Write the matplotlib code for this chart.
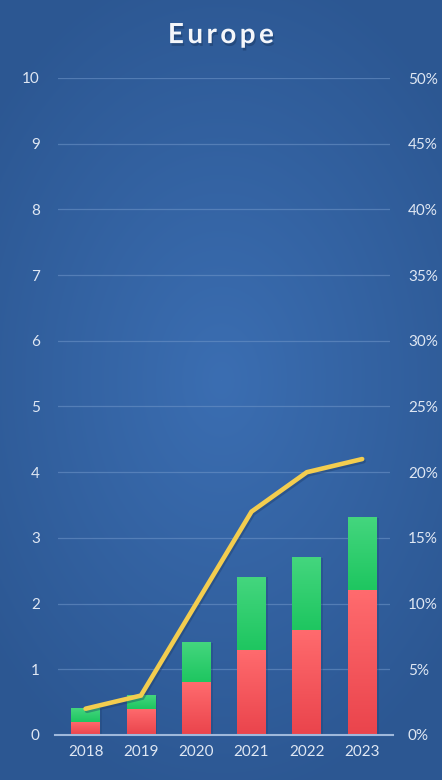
import numpy as np
import matplotlib.pyplot as plt
import matplotlib.patheffects as pe

years = ['2018', '2019', '2020', '2021', '2022', '2023']
red_vals = [0.2, 0.4, 0.8, 1.3, 1.6, 2.2]
green_vals = [0.2, 0.2, 0.6, 1.1, 1.1, 1.1]
line_pct = [2, 3, 10, 17, 20, 21]
left_ticks = [0, 1, 2, 3, 4, 5, 6, 7, 8, 9, 10]
right_ticks = [0, 5, 10, 15, 20, 25, 30, 35, 40, 45, 50]

plt.rcParams['font.family'] = ['Lato', 'DejaVu Sans']
txt_col = '#dfe7f3'

fig = plt.figure(figsize=(4.42, 7.8), dpi=100)

# radial gradient background
bg = fig.add_axes([0, 0, 1, 1], zorder=-10)
yy, xx = np.mgrid[0:780, 0:442]
r = np.sqrt(((xx - 221) / 300.0) ** 2 + ((yy - 380) / 430.0) ** 2)
r = np.clip(r, 0, 1)
c_in = np.array([0x3b, 0x6e, 0xb2]) / 255
c_out = np.array([0x2c, 0x57, 0x92]) / 255
img = c_in[None, None, :] * (1 - r[..., None]) + c_out[None, None, :] * r[..., None]
bg.imshow(img, aspect='auto', extent=[0, 1, 0, 1])
bg.axis('off')

ax = fig.add_axes([0.131, 0.0577, 0.751, 0.8423])
ax.patch.set_alpha(0)
x = np.arange(len(years))
w = 0.52


def grad_bar(ax, xc, bottom, height, top_col, bot_col):
    g = np.linspace(0, 1, 100)[:, None]
    top_c = np.array(plt.matplotlib.colors.to_rgb(top_col))
    bot_c = np.array(plt.matplotlib.colors.to_rgb(bot_col))
    arr = top_c[None, None, :] * (1 - g[..., None]) + bot_c[None, None, :] * g[..., None]
    arr = np.repeat(arr, 2, axis=1)
    ax.imshow(arr, aspect='auto', extent=[xc - w / 2, xc + w / 2, bottom, bottom + height],
              zorder=3, interpolation='bilinear')


for i in range(len(years)):
    # soft shadow
    ax.bar(x[i] + 0.04, red_vals[i] + green_vals[i], w, bottom=0, color='#1d3f70', alpha=0.3, zorder=2)
    grad_bar(ax, x[i], 0, red_vals[i], '#ff6b6e', '#ea444c')
    grad_bar(ax, x[i], red_vals[i], green_vals[i], '#44d67e', '#1ec660')

ax.set_xlim(-0.5, 5.5)
ax.set_ylim(0, 10)
ax.set_yticks(left_ticks)
ax.set_xticks(x)
ax.set_xticklabels(years)
for s in ax.spines.values():
    s.set_visible(False)
ax.axhline(0, color='#9fb8db', lw=1.5, zorder=4, xmin=-0.01, xmax=1.01, clip_on=False)
for t in left_ticks[1:]:
    ax.axhline(t, color='#6b92c6', lw=0.9, alpha=0.6, zorder=1, xmin=0.0, xmax=1.0)
ax.tick_params(axis='both', length=0, colors=txt_col, labelsize=11)
ax.tick_params(axis='y', pad=13)
ax.tick_params(axis='x', pad=7)

ax2 = ax.twinx()
ax2.set_ylim(0, 50)
ax2.set_yticks(right_ticks)
ax2.set_yticklabels([f'{v}%' for v in right_ticks])
for s in ax2.spines.values():
    s.set_visible(False)
ax2.tick_params(axis='y', length=0, colors=txt_col, labelsize=11, pad=13)
ax2.plot(x, line_pct, color='#f3cd4f', lw=3.3, solid_capstyle='round', solid_joinstyle='miter', zorder=5,
         path_effects=[pe.SimpleLineShadow(offset=(1, -1.5), shadow_color='#1b3a66', alpha=0.4), pe.Normal()])

fig.text(0.5, 0.955, '\u2009'.join('Europe'), ha='center', va='center', color='#f4f6fa', fontsize=20,
         fontweight='bold', path_effects=[pe.withSimplePatchShadow(offset=(1, -2), shadow_rgbFace='#1b3a66', alpha=0.5)])

fig.savefig('out.png', dpi=100)
